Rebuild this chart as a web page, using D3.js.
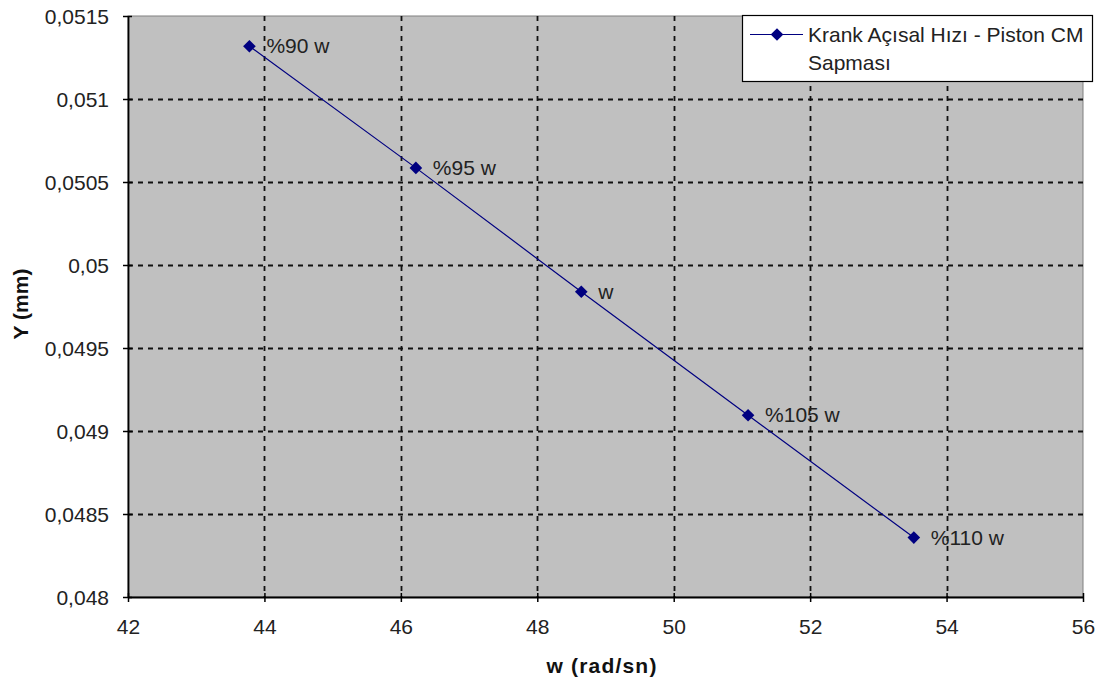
<!DOCTYPE html>
<html>
<head>
<meta charset="utf-8">
<script src="https://cdn.jsdelivr.net/npm/d3@7"></script>
<style>
  html, body { margin: 0; padding: 0; background: #fff; }
  svg { display: block; font-family: Arial, "Liberation Sans", sans-serif; }
</style>
</head>
<body>
<svg id="chart" width="1115" height="688"></svg>
<script>
// Crank angular speed vs. piston CM deviation
const speeds = [43.78, 46.22, 48.645, 51.09, 53.52];          // w (rad/sn)
const deviations = [0.051318, 0.050585, 0.049839, 0.049095, 0.048358]; // Y (mm)
const pointLabels = ["%90 w", "%95 w", "w", "%105 w", "%110 w"];
const xTicks = [42, 44, 46, 48, 50, 52, 54, 56];
const yTicks = [0.048, 0.0485, 0.049, 0.0495, 0.05, 0.0505, 0.051, 0.0515];
const seriesName = ["Krank Açısal Hızı - Piston CM", "Sapması"];

const svg = d3.select("#chart");
const m = { left: 128, right: 1083, top: 16, bottom: 597 };
const FS = 21;

const x = d3.scaleLinear().domain([42, 56]).range([m.left, m.right]);
const y = d3.scaleLinear().domain([0.048, 0.0515]).range([m.bottom, m.top]);
const fmt = d => String(+d.toFixed(4)).replace(".", ",");

// plot background
svg.append("rect")
  .attr("x", m.left).attr("y", m.top)
  .attr("width", m.right - m.left).attr("height", m.bottom - m.top)
  .attr("fill", "#c0c0c0").attr("stroke", "#808080").attr("stroke-width", 1);

// dashed gridlines
const grid = svg.append("g").attr("stroke", "#111").attr("stroke-width", 1.8)
  .attr("stroke-dasharray", "5,5");
grid.selectAll(".gx").data(xTicks.slice(1, -1)).join("line")
  .attr("x1", d => Math.round(x(d)) + 0.5).attr("x2", d => Math.round(x(d)) + 0.5)
  .attr("y1", m.top).attr("y2", m.bottom);
grid.selectAll(".gy").data(yTicks.slice(1, -1)).join("line")
  .attr("y1", d => Math.round(y(d)) + 0.5).attr("y2", d => Math.round(y(d)) + 0.5)
  .attr("x1", m.left).attr("x2", m.right);

// axes
const xAxis = d3.axisBottom(x).tickValues(xTicks).tickFormat(d => d).tickSizeInner(5).tickSizeOuter(0);
const yAxis = d3.axisLeft(y).tickValues(yTicks).tickFormat(fmt).tickSizeInner(5).tickSizeOuter(0);

const gx = svg.append("g").attr("transform", `translate(0,${m.bottom})`).call(xAxis);
const gy = svg.append("g").attr("transform", `translate(${m.left},0)`).call(yAxis);
[gx, gy].forEach(g => {
  g.select(".domain").attr("stroke", "#000").attr("stroke-width", 1.8);
  g.selectAll(".tick line").attr("stroke", "#000").attr("stroke-width", 1.5);
  g.selectAll(".tick text").attr("fill", "#222").attr("font-size", FS)
    .attr("font-family", "Arial, 'Liberation Sans', sans-serif");
});
gx.selectAll(".tick line").attr("y1", -4);
gx.selectAll(".tick text").attr("dy", null).attr("y", 37);
gy.selectAll(".tick line").attr("x1", 4).attr("x2", -5);
gy.selectAll(".tick text").attr("x", -19).attr("dy", "0.36em");

// axis titles
svg.append("text").attr("x", 602).attr("y", 673).attr("text-anchor", "middle")
  .attr("font-size", FS).attr("font-weight", "bold").attr("letter-spacing", 1.2)
  .attr("fill", "#111").text("w (rad/sn)");
svg.append("text").attr("transform", "translate(28,304) rotate(-90)").attr("text-anchor", "middle")
  .attr("font-size", FS).attr("font-weight", "bold").attr("fill", "#111").text("Y (mm)");

// series line and markers
const pts = speeds.map((s, i) => ({ x: s, y: deviations[i], label: pointLabels[i] }));
svg.append("path").datum(pts)
  .attr("fill", "none").attr("stroke", "#000080").attr("stroke-width", 1.2)
  .attr("d", d3.line().x(d => x(d.x)).y(d => y(d.y)));

const diamond = d3.symbol().type(d3.symbolSquare).size(80);
svg.selectAll(".pt").data(pts).join("path")
  .attr("transform", d => `translate(${x(d.x)},${y(d.y)}) rotate(45)`)
  .attr("d", diamond).attr("fill", "#000080");

svg.selectAll(".lbl").data(pts).join("text")
  .attr("x", d => x(d.x) + 17).attr("y", d => y(d.y) + 7)
  .attr("font-size", FS).attr("fill", "#222").text(d => d.label);

// legend
const lg = svg.append("g");
lg.append("rect").attr("x", 742.5).attr("y", 15.5).attr("width", 350).attr("height", 66)
  .attr("fill", "#fff").attr("stroke", "#000").attr("stroke-width", 1.2);
lg.append("line").attr("x1", 750).attr("x2", 803).attr("y1", 34.5).attr("y2", 34.5)
  .attr("stroke", "#000080").attr("stroke-width", 1.2);
lg.append("path").attr("transform", "translate(777,34.5) rotate(45)").attr("d", diamond).attr("fill", "#000080");
lg.selectAll("text").data(seriesName).join("text")
  .attr("x", 808).attr("y", (d, i) => 42 + i * 28)
  .attr("font-size", FS).attr("fill", "#222").text(d => d);
</script>
</body>
</html>
